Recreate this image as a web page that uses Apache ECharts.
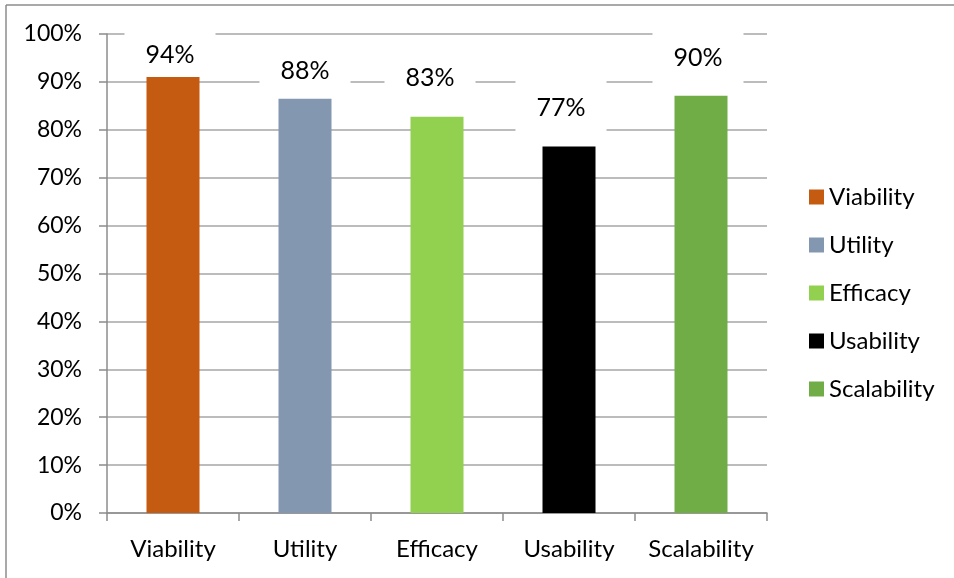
<!DOCTYPE html>
<html>
<head>
<meta charset="utf-8">
<script src="https://cdn.jsdelivr.net/npm/echarts@6/dist/echarts.min.js"></script>
<style>
html,body{margin:0;padding:0;background:#fff;}
#chart{width:954px;height:578px;}
</style>
</head>
<body>
<div id="chart"></div>
<script>
// Data
var categories = ['Viability', 'Utility', 'Efficacy', 'Usability', 'Scalability'];
var barValues = [91.0, 86.5, 82.7, 76.5, 87.1];
var labelTexts = ['94%', '88%', '83%', '77%', '90%'];
var yTicks = [0, 10, 20, 30, 40, 50, 60, 70, 80, 90, 100];

// Styles
var colors = ['#c55a11', '#8497b0', '#92d050', '#000000', '#70ad47'];
var labelOffsets = [[-3, -2], [0, -2], [-7, -13], [-8, -13], [-3, -12]];
var labelPaddings = [[16, 21, 8, 21], [16, 21, 14, 21], [16, 21, 14, 21], [16, 21, 14, 21], [16, 21, 14, 21]];
var fontFam = 'Lato, "Open Sans", sans-serif';

var chart = echarts.init(document.getElementById('chart'));

var series = categories.map(function (name, i) {
  return {
    name: name,
    type: 'bar',
    stack: 'all',
    barWidth: 53,
    itemStyle: { color: colors[i] },
    data: categories.map(function (c, j) { return j === i ? barValues[i] : null; }),
    label: {
      show: true,
      position: 'top',
      distance: 0,
      offset: labelOffsets[i],
      formatter: function () { return labelTexts[i]; },
      color: '#000',
      fontFamily: fontFam,
      fontSize: 25,
      lineHeight: 24,
      backgroundColor: '#fff',
      padding: labelPaddings[i]
    },
    emphasis: { disabled: true }
  };
});

chart.setOption({
  animation: false,
  backgroundColor: '#fff',
  grid: { left: 107, right: 187, top: 34, bottom: 65, containLabel: false },
  legend: {
    orient: 'vertical',
    left: 804,
    top: 180,
    itemWidth: 15,
    itemHeight: 15,
    itemGap: 24,
    icon: 'rect',
    data: categories,
    textStyle: { fontFamily: fontFam, fontSize: 24, lineHeight: 22, color: '#000', padding: [0, 0, 0, 0] }
  },
  xAxis: {
    type: 'category',
    data: categories,
    axisLine: { lineStyle: { color: '#8c8c8c', width: 1.5 } },
    axisTick: { show: true, interval: 0, length: 8, lineStyle: { color: '#8c8c8c', width: 1.5 } },
    axisLabel: { interval: 0, fontFamily: fontFam, fontSize: 24, color: '#000', margin: 24 }
  },
  yAxis: {
    type: 'value',
    min: yTicks[0],
    max: yTicks[yTicks.length - 1],
    interval: 10,
    axisLine: { show: true, lineStyle: { color: '#8c8c8c', width: 1.5 } },
    axisTick: { show: true, length: 8, lineStyle: { color: '#8c8c8c', width: 1.5 } },
    splitLine: { lineStyle: { color: '#a6a6a6', width: 1.5 } },
    axisLabel: {
      fontFamily: fontFam, fontSize: 23, color: '#000', margin: 25,
      formatter: function (v) { return v + '%'; }
    }
  },
  graphic: [
    { type: 'line', shape: { x1: 6, y1: 5, x2: 954, y2: 5 }, style: { stroke: '#8c8c8c', lineWidth: 1.5 } },
    { type: 'line', shape: { x1: 6, y1: 5, x2: 6, y2: 578 }, style: { stroke: '#8c8c8c', lineWidth: 1.5 } }
  ],
  series: series
});
</script>
</body>
</html>
